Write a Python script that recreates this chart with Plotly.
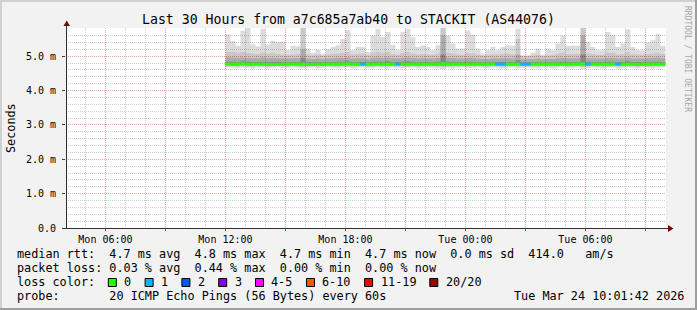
import plotly.graph_objects as go
import pandas as pd

# ---------------- data ----------------
title_text = "Last 30 Hours from a7c685a7ab40 to STACKIT (AS44076)"
range_start = "2026-03-23 04:01:42"
range_end = "2026-03-24 10:01:42"
data_start = "2026-03-23 12:00:00"
step_minutes = 15

x_tickvals = ["2026-03-23 06:00", "2026-03-23 09:00", "2026-03-23 12:00", "2026-03-23 15:00",
              "2026-03-23 18:00", "2026-03-23 21:00", "2026-03-24 00:00", "2026-03-24 03:00",
              "2026-03-24 06:00", "2026-03-24 09:00"]
x_ticktext = ["Mon 06:00", "", "Mon 12:00", "", "Mon 18:00", "", "Tue 00:00", "", "Tue 06:00", ""]
y_tickvals = [0, 1, 2, 3, 4, 5]
y_ticktext = ["0.0", "1.0 m", "2.0 m", "3.0 m", "4.0 m", "5.0 m"]

# smoke envelopes (ms), one value per 15-minute bin
smoke_max = [5.64, 5.44, 5.30, 5.74, 5.82, 5.35, 5.28, 5.80, 5.34, 5.45,
             5.42, 5.42, 5.17, 5.30, 5.28, 5.82, 5.22, 5.10, 5.18, 5.07,
             5.20, 5.27, 5.32, 5.50, 5.76, 5.17, 5.27, 5.27, 5.12, 5.61,
             5.80, 5.56, 5.70, 5.33, 5.17, 5.70, 5.80, 5.55, 5.27, 5.32,
             5.27, 5.17, 5.32, 5.85, 5.60, 5.37, 5.22, 5.22, 5.75, 5.62,
             5.22, 5.08, 5.17, 5.27, 5.17, 5.27, 5.32, 5.30, 5.80, 5.03,
             5.03, 5.10, 5.22, 5.05, 5.22, 5.17, 5.37, 5.60, 5.30, 5.30,
             5.30, 5.85, 5.42, 5.27, 5.17, 5.17, 5.70, 5.62, 5.27, 5.37,
             5.78, 5.27, 5.17, 5.17, 5.40, 5.46, 5.65, 5.30]
smoke_hi2 = [5.13, 5.12, 5.10, 5.12, 5.10, 5.08, 5.06, 5.10, 5.08, 5.10,
             5.06, 5.05, 5.03, 5.05, 5.06, 5.82, 5.05, 5.03, 5.05, 5.02,
             5.04, 5.06, 5.08, 5.10, 5.12, 5.05, 5.06, 5.07, 5.03, 5.10,
             5.12, 5.10, 5.12, 5.06, 5.04, 5.10, 5.12, 5.08, 5.05, 5.06,
             5.05, 5.04, 5.08, 5.85, 5.10, 5.08, 5.05, 5.04, 5.10, 5.08,
             5.04, 5.02, 5.03, 5.05, 5.04, 5.06, 5.07, 5.05, 5.50, 5.00,
             5.00, 5.02, 5.04, 5.00, 5.03, 5.03, 5.08, 5.10, 5.06, 5.06,
             5.06, 5.85, 5.08, 5.06, 5.04, 5.04, 5.10, 5.10, 5.05, 5.06,
             5.12, 5.05, 5.04, 5.04, 5.06, 5.08, 5.10, 5.06]
smoke_hi3 = [4.97, 4.96, 4.95, 4.96, 4.95, 4.94, 4.94, 4.96, 4.94, 4.95,
             4.94, 4.93, 4.93, 4.94, 4.94, 5.20, 4.93, 4.92, 4.93, 4.92,
             4.93, 4.94, 4.95, 4.95, 4.96, 4.93, 4.94, 4.94, 4.92, 4.95,
             4.96, 4.95, 4.96, 4.94, 4.93, 4.95, 4.96, 4.95, 4.93, 4.94,
             4.93, 4.93, 4.95, 5.60, 4.96, 4.95, 4.93, 4.93, 4.95, 4.95,
             4.93, 4.92, 4.92, 4.93, 4.93, 4.94, 4.94, 4.93, 5.05, 4.91,
             4.91, 4.92, 4.93, 4.91, 4.92, 4.92, 4.94, 4.95, 4.94, 4.94,
             4.94, 5.60, 4.95, 4.94, 4.93, 4.93, 4.95, 4.95, 4.93, 4.94,
             4.96, 4.93, 4.93, 4.93, 4.94, 4.95, 4.96, 4.94]
smoke_hi4 = [4.84, 4.84, 4.83, 4.85, 4.84, 4.83, 4.83, 4.84, 4.83, 4.83,
             4.83, 4.83, 4.82, 4.83, 4.83, 4.95, 4.83, 4.82, 4.83, 4.82,
             4.83, 4.83, 4.84, 4.84, 4.85, 4.83, 4.83, 4.83, 4.82, 4.84,
             4.84, 4.84, 4.85, 4.83, 4.82, 4.84, 4.85, 4.84, 4.83, 4.83,
             4.83, 4.82, 4.84, 5.05, 4.84, 4.84, 4.83, 4.83, 4.84, 4.84,
             4.83, 4.82, 4.82, 4.83, 4.83, 4.83, 4.83, 4.83, 4.88, 4.82,
             4.82, 4.82, 4.83, 4.82, 4.82, 4.82, 4.83, 4.84, 4.83, 4.83,
             4.83, 5.05, 4.84, 4.83, 4.83, 4.83, 4.84, 4.84, 4.83, 4.83,
             4.85, 4.83, 4.83, 4.83, 4.83, 4.84, 4.84, 4.83]
smoke_lo4 = [4.745, 4.745, 4.74, 4.745, 4.74, 4.74, 4.745, 4.745, 4.74, 4.74,
             4.745, 4.74, 4.74, 4.745, 4.745, 4.74, 4.74, 4.745, 4.74, 4.74,
             4.745, 4.74, 4.74, 4.745, 4.745, 4.74, 4.74, 4.745, 4.74, 4.74,
             4.745, 4.74, 4.74, 4.745, 4.745, 4.74, 4.74, 4.745, 4.74, 4.74,
             4.745, 4.74, 4.74, 4.745, 4.745, 4.74, 4.74, 4.745, 4.74, 4.74,
             4.745, 4.74, 4.74, 4.745, 4.745, 4.74, 4.74, 4.745, 4.74, 4.74,
             4.745, 4.74, 4.74, 4.745, 4.745, 4.74, 4.74, 4.745, 4.74, 4.74,
             4.745, 4.74, 4.74, 4.745, 4.745, 4.74, 4.74, 4.745, 4.74, 4.74,
             4.745, 4.74, 4.74, 4.745, 4.745, 4.74, 4.74, 4.745]
smoke_lo3 = [4.73, 4.72, 4.72, 4.73, 4.72, 4.72, 4.73, 4.72, 4.72, 4.72,
             4.73, 4.72, 4.72, 4.73, 4.72, 4.71, 4.72, 4.73, 4.72, 4.72,
             4.73, 4.72, 4.72, 4.73, 4.72, 4.72, 4.72, 4.73, 4.72, 4.72,
             4.73, 4.72, 4.72, 4.73, 4.72, 4.72, 4.72, 4.73, 4.72, 4.72,
             4.73, 4.72, 4.72, 4.71, 4.72, 4.72, 4.72, 4.73, 4.72, 4.72,
             4.73, 4.72, 4.72, 4.73, 4.72, 4.72, 4.72, 4.73, 4.72, 4.72,
             4.73, 4.72, 4.72, 4.73, 4.72, 4.72, 4.72, 4.73, 4.72, 4.72,
             4.73, 4.71, 4.72, 4.73, 4.72, 4.72, 4.72, 4.73, 4.72, 4.72,
             4.73, 4.72, 4.72, 4.73, 4.72, 4.72, 4.72, 4.73]
smoke_lo2 = [4.71, 4.70, 4.70, 4.71, 4.70, 4.70, 4.71, 4.70, 4.69, 4.70,
             4.71, 4.70, 4.70, 4.71, 4.70, 4.69, 4.70, 4.71, 4.70, 4.70,
             4.71, 4.70, 4.70, 4.71, 4.70, 4.70, 4.70, 4.71, 4.70, 4.69,
             4.71, 4.70, 4.70, 4.71, 4.70, 4.70, 4.70, 4.71, 4.70, 4.70,
             4.71, 4.70, 4.70, 4.69, 4.70, 4.70, 4.70, 4.71, 4.70, 4.70,
             4.71, 4.70, 4.70, 4.71, 4.70, 4.69, 4.70, 4.71, 4.70, 4.70,
             4.71, 4.70, 4.70, 4.71, 4.70, 4.70, 4.70, 4.71, 4.70, 4.70,
             4.71, 4.69, 4.70, 4.71, 4.70, 4.70, 4.70, 4.71, 4.70, 4.70,
             4.71, 4.70, 4.70, 4.71, 4.70, 4.70, 4.70, 4.71]
smoke_min = [4.67, 4.66, 4.65, 4.67, 4.66, 4.64, 4.66, 4.67, 4.65, 4.66,
             4.67, 4.66, 4.65, 4.67, 4.66, 4.64, 4.66, 4.67, 4.65, 4.66,
             4.67, 4.66, 4.65, 4.66, 4.67, 4.64, 4.66, 4.67, 4.65, 4.66,
             4.67, 4.66, 4.65, 4.67, 4.66, 4.64, 4.66, 4.67, 4.65, 4.66,
             4.67, 4.66, 4.65, 4.63, 4.66, 4.64, 4.66, 4.67, 4.65, 4.66,
             4.67, 4.66, 4.65, 4.67, 4.66, 4.64, 4.66, 4.67, 4.65, 4.66,
             4.67, 4.66, 4.65, 4.67, 4.66, 4.64, 4.66, 4.67, 4.65, 4.66,
             4.67, 4.63, 4.65, 4.67, 4.66, 4.64, 4.66, 4.67, 4.65, 4.66,
             4.67, 4.66, 4.65, 4.67, 4.66, 4.64, 4.66, 4.67]
median_rtt = [4.77, 4.77, 4.77, 4.78, 4.77, 4.77, 4.77, 4.77, 4.76, 4.76,
              4.76, 4.77, 4.77, 4.77, 4.77, 4.77, 4.76, 4.76, 4.77, 4.77,
              4.77, 4.77, 4.77, 4.77, 4.78, 4.77, 4.77, 4.77, 4.77, 4.77,
              4.77, 4.77, 4.77, 4.77, 4.77, 4.77, 4.77, 4.77, 4.77, 4.77,
              4.77, 4.77, 4.77, 4.78, 4.77, 4.77, 4.77, 4.77, 4.77, 4.77,
              4.77, 4.77, 4.77, 4.77, 4.77, 4.77, 4.77, 4.77, 4.77, 4.77,
              4.77, 4.77, 4.77, 4.77, 4.77, 4.77, 4.77, 4.77, 4.77, 4.77,
              4.77, 4.78, 4.77, 4.77, 4.77, 4.77, 4.77, 4.77, 4.77, 4.77,
              4.77, 4.77, 4.76, 4.77, 4.77, 4.77, 4.77, 4.77]
loss_count = [0, 0, 0, 0, 0, 0, 0, 0, 0, 0,
              0, 0, 0, 0, 0, 0, 0, 0, 0, 0,
              0, 0, 0, 0, 0, 0, 0, 1, 0, 0,
              0, 0, 0, 0, 1, 0, 0, 0, 0, 0,
              0, 0, 0, 0, 0, 0, 0, 0, 0, 0,
              0, 0, 0, 0, 1, 1, 0, 0, 0, 1,
              1, 0, 0, 0, 0, 0, 0, 0, 0, 0,
              0, 0, 1, 0, 0, 0, 0, 0, 1, 0,
              0, 0, 0, 0, 0, 0, 0, 0]

loss_labels = ["0", "1", "2", "3", "4-5", "6-10", "11-19", "20/20"]
loss_upper = [0, 1, 2, 3, 5, 10, 19, 20]
loss_colors = ["#26ff00", "#00b8ff", "#0059ff", "#7e00ff", "#ff00ff", "#ff5500", "#ff0000", "#a10000"]

stat_line_1 = "median rtt:  4.7 ms avg  4.8 ms max  4.7 ms min  4.7 ms now  0.0 ms sd  414.0   am/s"
stat_line_2 = "packet loss: 0.03 % avg  0.44 % max  0.00 % min  0.00 % now"
loss_line_label = "loss color:"
probe_line = "probe:       20 ICMP Echo Pings (56 Bytes) every 60s"
stamp_text = "Tue Mar 24 10:01:42 2026"
watermark = "RRDTOOL / TOBI OETIKER"

# ---------------- layout geometry ----------------
W, H = 697, 310
L, T, PW, PH = 66, 28, 600, 200
MONO = "DejaVu Sans Mono"


def px(x):
    return (x - L) / PW


def py(y):
    return (T + PH - y) / PH


n = len(smoke_max)
t0 = pd.Timestamp(data_start)
edges = [t0 + pd.Timedelta(minutes=step_minutes * i) for i in range(n + 1)]


def ext(vals):
    return list(vals) + [vals[-1]]


fig = go.Figure()

layers = [
    (smoke_min, smoke_max, 0.137),
    (smoke_lo2, smoke_hi2, 0.092),
    (smoke_lo3, smoke_hi3, 0.149),
    (smoke_lo4, smoke_hi4, 0.20),
]
for lo, hi, a in layers:
    fig.add_trace(go.Scatter(x=edges, y=ext(lo), mode="lines", line=dict(width=0, shape="hv"),
                             hoverinfo="skip", showlegend=False))
    fig.add_trace(go.Scatter(x=edges, y=ext(hi), mode="lines", line=dict(width=0, shape="hv"),
                             fill="tonexty", fillcolor=f"rgba(0,0,0,{a})",
                             hoverinfo="skip", showlegend=False))


def loss_class(c):
    for i, u in enumerate(loss_upper):
        if c <= u:
            return i
    return len(loss_upper) - 1


for ci, col in enumerate(loss_colors):
    xs, ys = [], []
    for k in range(n):
        if loss_class(loss_count[k]) == ci:
            xs += [edges[k], edges[k + 1], None]
            ys += [median_rtt[k], median_rtt[k], None]
    if xs:
        fig.add_trace(go.Scatter(x=xs, y=ys, mode="lines", line=dict(color=col, width=3),
                                 hoverinfo="skip", showlegend=False))

major_grid = "#eda3a3"
minor_grid = "#cdcdcd"

fig.update_layout(
    width=W, height=H,
    margin=dict(l=L, r=W - L - PW, t=T, b=H - T - PH, pad=0),
    paper_bgcolor="#f2f2f2", plot_bgcolor="#ffffff",
    font=dict(family=MONO, color="#000000", size=10),
    showlegend=False,
    xaxis=dict(type="date", range=[range_start, range_end], tickmode="array",
               tickvals=x_tickvals, ticktext=x_ticktext,
               showgrid=True, gridcolor=major_grid, griddash="1px,1px", gridwidth=1,
               ticks="outside", ticklen=2, tickcolor="#b05050", tickwidth=1,
               tickfont=dict(family=MONO, size=10), showline=False, zeroline=False,
               minor=dict(tickmode="linear", tick0="2026-03-23 00:00", dtick=3600000,
                          showgrid=True, gridcolor=minor_grid, griddash="1px,1px", ticks="")),
    yaxis=dict(range=[0, 5.82], tickmode="array", tickvals=y_tickvals, ticktext=y_ticktext,
               showgrid=True, gridcolor=major_grid, griddash="1px,1px", gridwidth=1,
               ticks="outside", ticklen=3, tickcolor="#404040", tickwidth=1,
               ticklabelstandoff=4,
               tickfont=dict(family=MONO, size=10), showline=False, zeroline=False,
               minor=dict(tickmode="linear", tick0=0, dtick=0.2,
                          showgrid=True, gridcolor=minor_grid, griddash="1px,1px", ticks="")),
)

shapes = []
# 3D border
shapes.append(dict(type="line", xref="paper", yref="paper", x0=px(0), x1=px(W), y0=py(1), y1=py(1),
                   line=dict(color="#d0d0d0", width=2)))
shapes.append(dict(type="line", xref="paper", yref="paper", x0=px(1), x1=px(1), y0=py(0), y1=py(H),
                   line=dict(color="#d0d0d0", width=2)))
shapes.append(dict(type="line", xref="paper", yref="paper", x0=px(0), x1=px(W), y0=py(H - 1), y1=py(H - 1),
                   line=dict(color="#9e9e9e", width=2)))
shapes.append(dict(type="line", xref="paper", yref="paper", x0=px(W - 1), x1=px(W - 1), y0=py(0), y1=py(H),
                   line=dict(color="#9e9e9e", width=2)))
# axes
ax_col = "#303030"
shapes.append(dict(type="line", xref="paper", yref="paper", x0=px(66.5), x1=px(66.5), y0=py(228.5), y1=py(25),
                   line=dict(color=ax_col, width=1), layer="above"))
shapes.append(dict(type="line", xref="paper", yref="paper", x0=px(63), x1=px(669), y0=py(228.5), y1=py(228.5),
                   line=dict(color=ax_col, width=1), layer="above"))
arrow_col = "#7f0000"
shapes.append(dict(type="path", xref="paper", yref="paper",
                   path=f"M {px(63.5)},{py(26)} L {px(70)},{py(26)} L {px(66.7)},{py(20.5)} Z",
                   fillcolor=arrow_col, line=dict(color=arrow_col, width=0), layer="above"))
shapes.append(dict(type="path", xref="paper", yref="paper",
                   path=f"M {px(668)},{py(225)} L {px(668)},{py(232)} L {px(673.5)},{py(228.5)} Z",
                   fillcolor=arrow_col, line=dict(color=arrow_col, width=0), layer="above"))

annotations = []


def text_at(x, y, s, size=11.8, anchor="left", color="#000000", angle=0):
    annotations.append(dict(xref="paper", yref="paper", x=px(x), y=py(y), text=s.replace(" ", "\u00a0"),
                            showarrow=False, xanchor=anchor, yanchor="middle", textangle=angle,
                            font=dict(family=MONO, size=size, color=color), borderpad=0))


text_at(348.5, 19, title_text, size=13.2, anchor="center")
text_at(11, 128, "Seconds", size=11.8, anchor="center", angle=-90)
text_at(688, 59, watermark, size=8, anchor="center", color="#a6a6a6", angle=90)
text_at(16, 254, stat_line_1)
text_at(16, 268, stat_line_2)
text_at(16, 282, loss_line_label)
text_at(16, 296, probe_line)
text_at(513, 296, stamp_text)

# loss colour legend boxes
cw = 7.1
xpos = 108.3
for lab, col in zip(loss_labels, loss_colors):
    shapes.append(dict(type="rect", xref="paper", yref="paper",
                       x0=px(xpos), x1=px(xpos + 8), y0=py(278.5), y1=py(286.5),
                       fillcolor=col, line=dict(color="#000000", width=1)))
    text_at(xpos + 14.9, 282, lab)
    xpos = xpos + 14.9 + len(lab) * cw + 14.8

fig.update_layout(shapes=shapes, annotations=annotations)
fig.write_html("out.html")
